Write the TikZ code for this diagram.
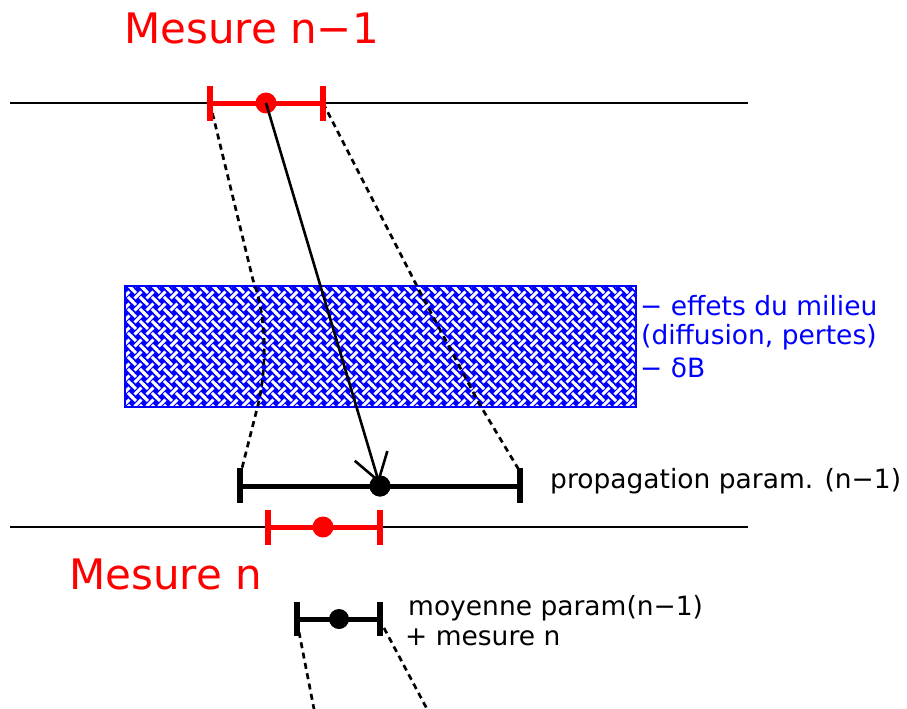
\documentclass[tikz,border=0pt]{standalone}
\usepackage{fontspec}
\setmainfont{DejaVu Sans}
\usetikzlibrary{arrows.meta,patterns}
\pgfdeclarepatternformonly{weave}{\pgfqpoint{-2pt}{-2pt}}{\pgfqpoint{14pt}{14pt}}{\pgfqpoint{12pt}{12pt}}{%
  \pgfsetlinewidth{3pt}%
  \pgfpathmoveto{\pgfqpoint{2.6pt}{2.6pt}}\pgfpathlineto{\pgfqpoint{9.4pt}{9.4pt}}%
  \pgfpathmoveto{\pgfqpoint{-1pt}{13pt}}\pgfpathlineto{\pgfqpoint{4pt}{8pt}}%
  \pgfpathmoveto{\pgfqpoint{8pt}{4pt}}\pgfpathlineto{\pgfqpoint{13pt}{-1pt}}%
  \pgfusepath{stroke}%
}
\tikzset{
  axisline/.style={line width=2pt},
  barline/.style={line width=5pt},
  tick/.style={line width=6pt},
  dot/.style={circle, inner sep=0pt, minimum size=21pt},
  dashline/.style={line width=2.7pt, dash pattern=on 6pt off 4.5pt},
  bigtxt/.style={red, inner sep=0pt, anchor=base west, font=\fontsize{42}{50}\selectfont},
  smalltxt/.style={inner sep=0pt, anchor=base west, font=\fontsize{26.5}{31}\selectfont},
}
\begin{document}
\begin{tikzpicture}[x=1pt,y=-1pt]
\useasboundingbox (0,0) rectangle (907,709);
% horizontal lines
\coordinate (top1) at (10,103);
\coordinate (top2) at (748,103);
\coordinate (bot1) at (10,527);
\coordinate (bot2) at (748,527);
\draw[axisline] (top1) -- (top2);
\draw[axisline] (bot1) -- (bot2);
% medium box
\path[preaction={fill=blue}, pattern=weave, pattern color=white] (125,286) rectangle (636,407);
\draw[blue, line width=2pt] (125,286) rectangle (636,407);
\node[smalltxt, blue] (eff1) at (640,315) {− effets du milieu};
\node[smalltxt, blue] (eff2) at (641,344) {(diffusion, pertes)};
\node[smalltxt, blue] (eff3) at (640,377) {− δB};
% key points
\coordinate (aL) at (210,103);
\coordinate (aR) at (323,103);
\coordinate (pL) at (240,486);
\coordinate (pR) at (520,486);
\coordinate (pLt) at (240,476);
\coordinate (pRt) at (519,470);
\coordinate (bL) at (268,527);
\coordinate (bR) at (380,527);
\coordinate (mL) at (297,619);
\coordinate (mR) at (380,619);
\coordinate (mLb) at (299,632);
\coordinate (mRb) at (384,628);
\coordinate (endL) at (314,709);
\coordinate (endR) at (427,709);
% dashed envelopes
\draw[dashline] (aL) -- (253,280) .. controls (268,320) and (266,372) .. (258,405) -- (pLt);
\draw[dashline] (aR) -- (420,292) -- (480,405) -- (pRt);
\draw[dashline] (mLb) -- (endL);
\draw[dashline] (mRb) -- (endR);
% top measurement
\draw[barline, red] (aL) -- (aR);
\draw[tick, red] ([yshift=17pt]aL) -- ([yshift=-18pt]aL);
\draw[tick, red] ([yshift=17pt]aR) -- ([yshift=-18pt]aR);
\node[dot, fill=red] (d1) at (266,103) {};
\node[bigtxt] (t1) at (124,44) {Mesure n−1};
% propagated parameters
\draw[barline] (pL) -- (pR);
\draw[tick] ([yshift=18pt]pL) -- ([yshift=-17pt]pL);
\draw[tick] ([yshift=18pt]pR) -- ([yshift=-17pt]pR);
\node[dot, fill=black] (d2) at (380,486) {};
\draw[line width=2.6pt, shorten >=3pt, -{Straight Barb[length=26pt,width=34pt,line width=2.6pt]}] (d1.center) -- (d2.center);
\node[dot, fill=black] at (380,486) {};
\node[smalltxt] (prop) at (550,488) {propagation param. (n−1)};
% measurement n
\draw[barline, red] (bL) -- (bR);
\draw[tick, red] ([yshift=17pt]bL) -- ([yshift=-18pt]bL);
\draw[tick, red] ([yshift=17pt]bR) -- ([yshift=-18pt]bR);
\node[dot, fill=red] (d3) at (323,527) {};
\node[bigtxt] (t2) at (69,589) {Mesure n};
% mean
\draw[barline] (mL) -- (mR);
\draw[tick] ([yshift=17pt]mL) -- ([yshift=-17pt]mL);
\draw[tick] ([yshift=17pt]mR) -- ([yshift=-17pt]mR);
\node[dot, fill=black, minimum size=20pt] (d4) at (339,619) {};
\node[smalltxt] (moy1) at (408,615) {moyenne param(n−1)};
\node[smalltxt] (moy2) at (405,645) {+ mesure n};
\end{tikzpicture}
\end{document}
